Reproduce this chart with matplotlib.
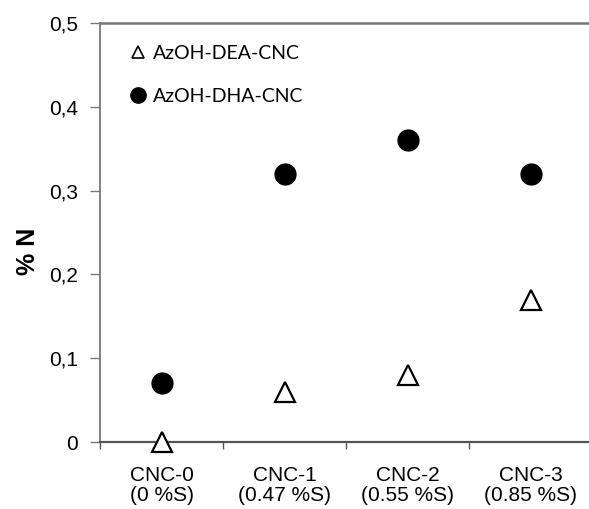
import matplotlib
matplotlib.use('Agg')
import matplotlib.pyplot as plt
from matplotlib.lines import Line2D
import matplotlib.ticker as mticker

categories = ['CNC-0\n(0 %S)', 'CNC-1\n(0.47 %S)', 'CNC-2\n(0.55 %S)', 'CNC-3\n(0.85 %S)']
dea_values = [0.0, 0.06, 0.08, 0.17]   # AzOH-DEA-CNC
dha_values = [0.07, 0.32, 0.36, 0.32]  # AzOH-DHA-CNC
y_ticks = [0, 0.1, 0.2, 0.3, 0.4, 0.5]

plt.rcParams['font.family'] = ['Liberation Sans', 'DejaVu Sans']

fig = plt.figure(figsize=(5.89, 5.09), dpi=100)
ax = fig.add_axes([100 / 589, 1 - 442 / 509, 489 / 589, 419 / 509])

x = list(range(len(categories)))
ax.plot(x, dha_values, linestyle='none', marker='o', markersize=15,
        color='black', zorder=3, clip_on=False)
ax.plot(x, dea_values, linestyle='none', marker='^', markersize=14,
        markerfacecolor='white', markeredgecolor='black', markeredgewidth=1.6,
        zorder=3, clip_on=False)

ax.set_xlim(-0.5, 3.475)
ax.set_ylim(0, 0.5)

# category ticks between groups, labels at the centres
ax.set_xticks([-0.5, 0.5, 1.5, 2.5])
ax.set_xticklabels([])
ax.set_xticks(x, minor=True)
ax.set_xticklabels(categories, minor=True, fontsize=15, linespacing=1.1)
ax.tick_params(axis='x', which='minor', length=0, pad=17)
ax.tick_params(axis='x', which='major', length=5, width=1, color='#555555', direction='out')

ax.set_yticks(y_ticks)
ax.yaxis.set_major_formatter(mticker.FuncFormatter(
    lambda v, p: '0' if v == 0 else ('%.1f' % v).replace('.', ',')))
ax.tick_params(axis='y', length=7, width=1, color='#777777', labelsize=15, pad=9)

for side in ['left', 'bottom', 'top']:
    ax.spines[side].set_color('#777777')
    ax.spines[side].set_linewidth(1.3)
ax.spines['bottom'].set_color('#555555')
ax.spines['bottom'].set_linewidth(1.6)
ax.spines['top'].set_linewidth(1.8)
ax.spines['right'].set_visible(False)

ax.set_ylabel('% N', fontsize=18, fontweight='bold')
ax.yaxis.set_label_coords(-0.122, 0.456)

handles = [
    Line2D([], [], linestyle='none', marker='^', markersize=9, markerfacecolor='white',
           markeredgecolor='black', markeredgewidth=1.2),
    Line2D([], [], linestyle='none', marker='o', markersize=11, color='black'),
]
ax.legend(handles, ['AzOH-DEA-CNC', 'AzOH-DHA-CNC'], loc='upper left',
          bbox_to_anchor=(0.022, 0.99), frameon=False, handletextpad=0.25,
          handlelength=1.0, labelspacing=1.35, prop={'family': 'Lato', 'size': 14})

fig.savefig('out.png', dpi=100)
